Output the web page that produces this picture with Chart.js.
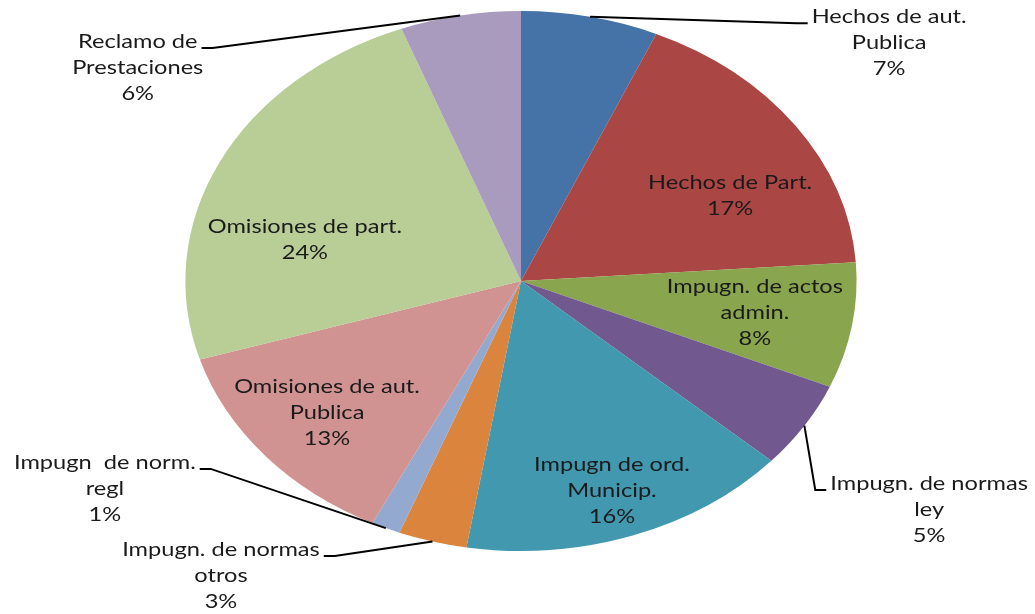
<!DOCTYPE html>
<html>
<head>
<meta charset="utf-8">
<script src="https://cdn.jsdelivr.net/npm/chart.js@4/dist/chart.umd.min.js"></script>
<style>
  html, body { margin: 0; padding: 0; background: #fff; }
  #wrap { width: 1035px; height: 614px; }
</style>
</head>
<body>
<div id="wrap"><canvas id="myChart" width="1035" height="614"></canvas></div>
<script>
// 데이터
const categories = [
    ['Hechos de aut.', 'Publica'],
    ['Hechos de Part.'],
    ['Impugn. de actos', 'admin.'],
    ['Impugn. de normas', 'ley'],
    ['Impugn de ord.', 'Municip.'],
    ['Impugn. de normas', 'otros'],
    ['Impugn  de norm.', 'regl'],
    ['Omisiones de aut.', 'Publica'],
    ['Omisiones de part.'],
    ['Reclamo de', 'Prestaciones']
];
const values = [6.6, 17.3, 7.5, 5.2, 16.0, 3.3, 1.4, 13.0, 23.9, 5.8];
const colors = ['#4572A7', '#AA4643', '#89A54E', '#71588F', '#4198AF',
                '#DB843D', '#93A9CF', '#D19392', '#B9CD96', '#A99BBD'];

// 가로 늘림 비율 (원래 차트가 타원형)
const stretchX = 1.243;

// 라벨 위치 (타원 반지름 단위), 지시선이 붙는 쪽
const labelPlace = [
    { ux: 1.097, uy: -0.881, leader: 'left' },
    { ux: 0.623, uy: -0.317 },
    { ux: 0.697, uy: 0.119 },
    { ux: 1.216, uy: 0.848, leader: 'left' },
    { ux: 0.271, uy: 0.778 },
    { ux: -0.894, uy: 1.093, leader: 'right' },
    { ux: -1.240, uy: 0.770, leader: 'right' },
    { ux: -0.578, uy: 0.489 },
    { ux: -0.644, uy: -0.152 },
    { ux: -1.142, uy: -0.789, leader: 'right' }
];

const font = '19px Lato';
const lineH = 26;

const stretchPlugin = {
    id: 'stretch',
    beforeDatasetsDraw(chart) {
        const arc = chart.getDatasetMeta(0).data[0];
        const ctx = chart.ctx;
        ctx.save();
        ctx.translate(arc.x, arc.y);
        ctx.scale(stretchX, 1);
        ctx.translate(-arc.x, -arc.y);
    },
    afterDatasetsDraw(chart) {
        chart.ctx.restore();
    }
};

const labelPlugin = {
    id: 'pieLabels',
    afterDraw(chart) {
        const ctx = chart.ctx;
        const meta = chart.getDatasetMeta(0);
        const total = values.reduce((a, b) => a + b, 0);
        ctx.save();
        ctx.font = font;
        meta.data.forEach((arc, i) => {
            const rx = arc.outerRadius * stretchX;
            const ry = arc.outerRadius;
            const p = labelPlace[i];
            const cx = arc.x + p.ux * rx;
            const cy = arc.y + p.uy * ry;
            const lines = categories[i].concat([Math.round(values[i] / total * 100) + '%']);
            const top = cy - (lines.length - 1) * lineH / 2;

            // 지시선
            if (p.leader) {
                const mid = (arc.startAngle + arc.endAngle) / 2;
                const ex = arc.x + rx * Math.cos(mid);
                const ey = arc.y + ry * Math.sin(mid);
                const w = ctx.measureText(lines[0]).width * stretchX;
                const dir = p.leader === 'left' ? -1 : 1;
                const side = cx + dir * w / 2;
                const ly = top + 6;
                ctx.strokeStyle = '#000';
                ctx.lineWidth = 2;
                ctx.beginPath();
                ctx.moveTo(ex, ey);
                ctx.lineTo(side + dir * 15, ly);
                ctx.lineTo(side + dir * 4, ly);
                ctx.stroke();
            }

            ctx.fillStyle = '#1a1a1a';
            ctx.textAlign = 'center';
            ctx.textBaseline = 'middle';
            lines.forEach((t, k) => {
                ctx.save();
                ctx.translate(cx, top + k * lineH);
                ctx.scale(stretchX, 1);
                ctx.fillText(t, 0, 0);
                ctx.restore();
            });
        });
        ctx.restore();
    }
};

const ctx = document.getElementById('myChart').getContext('2d');
new Chart(ctx, {
    type: 'pie',
    data: {
        labels: categories,
        datasets: [{
            data: values,
            backgroundColor: colors,
            borderWidth: 0
        }]
    },
    options: {
        responsive: false,
        maintainAspectRatio: false,
        animation: false,
        layout: {
            padding: { left: 251, right: 244, top: 11, bottom: 63 }
        },
        plugins: {
            legend: { display: false },
            tooltip: { enabled: false }
        }
    },
    plugins: [stretchPlugin, labelPlugin]
});
</script>
</body>
</html>
